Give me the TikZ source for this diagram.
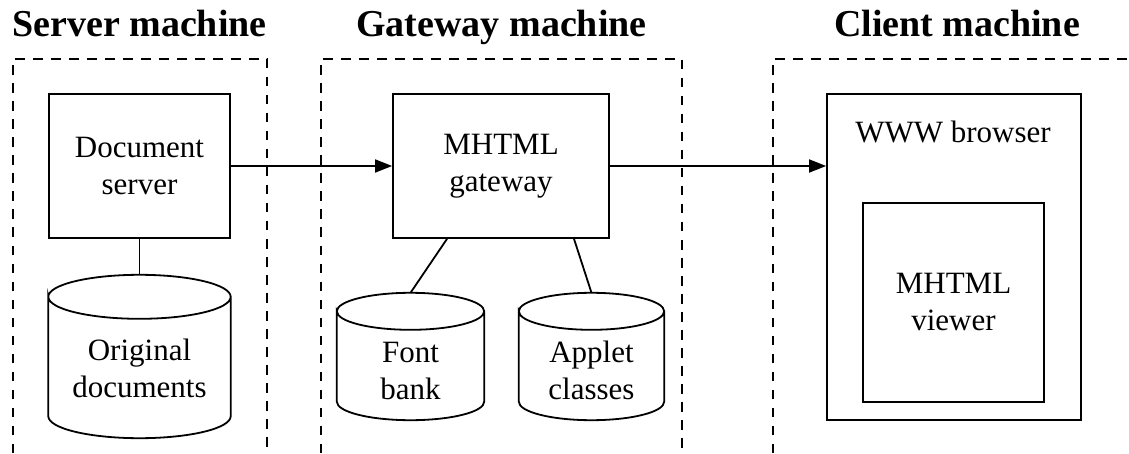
\documentclass[tikz,border=0pt]{standalone}
\usepackage{fontspec}
\setmainfont{Liberation Serif}
\usetikzlibrary{arrows.meta,calc}
\newcommand\drawcyl[2]{%
  \draw[link] let \p1=(#1.north west), \p2=(#1.south east), \n1={(\x2-\x1)/2} in
    (\x1,\y1-#2) arc[start angle=180,end angle=-180,x radius=\n1,y radius=#2]
    -- (\x1,\y2+#2) arc[start angle=180,end angle=360,x radius=\n1,y radius=#2]
    -- (\x2,\y1-#2);}
\begin{document}
\begin{tikzpicture}[x=1pt,y=1pt,
  txt/.style={inner sep=0pt, align=center, font=\fontsize{31}{37}\selectfont},
  box/.style={draw, line width=1.8pt, inner sep=0pt, align=center, font=\fontsize{31}{37}\selectfont},
  cylbody/.style={inner sep=0pt},
  region/.style={line width=1.8pt, dash pattern=on 9.5pt off 8.5pt},
  title/.style={inner sep=0pt, anchor=base, font=\fontsize{38}{44}\selectfont\bfseries},
  link/.style={line width=1.8pt},
  flow/.style={line width=1.8pt, -{Triangle[length=17pt,width=13pt]}}
]
\useasboundingbox (0,0) rectangle (1129,453);
% regions
\draw[region] (13,0) -- (13,394) -- (267,394) -- (267,0);
\draw[region] (321,0) -- (321,394) -- (682,394) -- (682,0);
\draw[region] (773,0) -- (773,394) -- (1129,394);
% titles
\node[title] (tserver) at (139.5,416) {Server machine};
\node[title] (tgateway) at (501.5,416) {Gateway machine};
\node[title] (tclient) at (957,416) {Client machine};
% server
\node[box, minimum width=181pt, minimum height=144pt] (ds) at (139.5,287) {Document\\server};
\node[cylbody, minimum width=182pt, minimum height=163pt] (od) at (139.5,96.5) {};
\drawcyl{od}{22pt}
\node[txt] (odtxt) at ([yshift=-12pt]od.center) {Original\\documents};
% gateway
\node[box, minimum width=216pt, minimum height=144pt] (gw) at (501,287) {MHTML\\gateway};
\node[cylbody, minimum width=147pt, minimum height=127pt] (fb) at (410.5,96.5) {};
\drawcyl{fb}{18.5pt}
\node[txt] (fbtxt) at ([yshift=-14pt]fb.center) {Font\\bank};
\node[cylbody, minimum width=145pt, minimum height=127pt] (ac) at (591.5,96.5) {};
\drawcyl{ac}{18.5pt}
\node[txt] (actxt) at ([yshift=-14pt]ac.center) {Applet\\classes};
% client
\node[box, minimum width=254pt, minimum height=326pt] (br) at (954,196) {};
\node[txt, anchor=base] (brtxt) at (953,310) {WWW browser};
\node[box, minimum width=181pt, minimum height=199pt] (mv) at (953.5,150.5) {MHTML\\viewer};
% connectors
\draw[flow] (ds.east) -- (gw.west);
\draw[flow] (gw.east) -- (gw.east -| br.west);
\draw[link] (ds.south) -- (od.north);
\draw[link] ([xshift=-54pt]gw.south) -- (fb.north);
\draw[link] ([xshift=73pt]gw.south) -- (ac.north);
\end{tikzpicture}
\end{document}
